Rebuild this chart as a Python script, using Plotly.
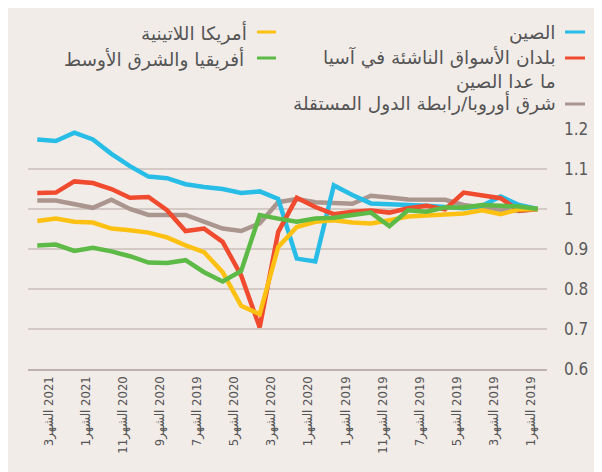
import plotly.graph_objects as go

# time index 0 = first month (rightmost on chart)
months = list(range(28))

china = [1.000, 1.010, 1.031, 1.008, 1.002, 1.006, 1.008, 1.010, 1.013, 1.014, 1.035, 1.059, 0.869, 0.876,
         1.025, 1.044, 1.040, 1.050, 1.055, 1.062, 1.077, 1.081, 1.107, 1.138, 1.174, 1.191, 1.170, 1.174]
asia_ex_china = [1.000, 0.996, 1.027, 1.035, 1.041, 0.999, 1.008, 1.002, 0.991, 0.996, 0.993, 0.987, 1.005, 1.028,
                 0.943, 0.704, 0.834, 0.918, 0.951, 0.945, 0.997, 1.030, 1.028, 1.050, 1.065, 1.069, 1.041, 1.040]
east_europe_cis = [1.000, 0.995, 0.998, 1.004, 1.010, 1.023, 1.023, 1.024, 1.029, 1.033, 1.013, 1.014, 1.017, 1.025,
                   1.017, 0.964, 0.945, 0.951, 0.968, 0.985, 0.985, 0.985, 1.000, 1.023, 1.003, 1.013, 1.021, 1.021]
latin_america = [1.000, 0.999, 0.987, 0.997, 0.989, 0.987, 0.985, 0.981, 0.972, 0.964, 0.966, 0.972, 0.968, 0.955,
                 0.905, 0.737, 0.758, 0.842, 0.892, 0.909, 0.929, 0.941, 0.947, 0.951, 0.966, 0.968, 0.976, 0.970]
africa_me = [1.000, 1.006, 1.008, 1.010, 1.004, 1.004, 0.993, 0.997, 0.957, 0.991, 0.985, 0.978, 0.976, 0.968,
             0.976, 0.985, 0.845, 0.819, 0.842, 0.872, 0.865, 0.866, 0.882, 0.894, 0.903, 0.895, 0.911, 0.909]

tick_positions = [0, 2, 4, 6, 8, 10, 12, 14, 16, 18, 20, 22, 24, 26]
tick_month = ["1", "3", "5", "7", "11", "1", "1", "3", "5", "7", "9", "11", "1", "3"]
tick_year = ["2019", "2019", "2019", "2019", "2019", "2019", "2020", "2020", "2020", "2019", "2020", "2020", "2021", "2021"]
tick_text = [m + "الشهر" + "\u200e " + y for m, y in zip(tick_month, tick_year)]

y_ticks = [0.6, 0.7, 0.8, 0.9, 1.0, 1.1, 1.2]
y_ticktext = ["0.6", "0.7", "0.8", "0.9", "1", "1.1", "1.2"]

series = [
    ("شرق أوروبا/رابطة الدول المستقلة", east_europe_cis, "#AA968F"),
    ("الصين", china, "#28BDE6"),
    ("بلدان الأسواق الناشئة في آسيا<br>ما عدا الصين", asia_ex_china, "#F04A2F"),
    ("أمريكا اللاتينية", latin_america, "#FDC113"),
    ("أفريقيا والشرق الأوسط", africa_me, "#5DBA47"),
]

BG = "#F2ECE9"
fig = go.Figure()
for name, vals, col in series:
    fig.add_trace(go.Scatter(x=months, y=vals, mode="lines", name=name.replace("<br>", " "),
                             line=dict(color=col, width=4.5), showlegend=False))

OFF = 8  # page body margin
W, H = 602 - OFF, 472 - OFF
L, R, T, B = 28 - OFF, 55, 129 - OFF, 103
pw, ph = W - L - R, H - T - B

def px_x(p):
    return (p - OFF - L) / pw

def px_y(p):
    return (H - B - (p - OFF)) / ph

# legend entries: (series index, mark x0, mark x1, mark y, text right x, text centre y)
legend_layout = [
    (1, 565, 585, 32, 557, 33),
    (2, 565, 585, 58, 557, 69),
    (0, 565, 585, 104, 557, 103),
    (3, 257, 276, 32, 248, 33),
    (4, 257, 276, 58, 245, 59),
]
shapes = []
annotations = []
for idx, x0, x1, my, tx, ty in legend_layout:
    name, _, col = series[idx]
    shapes.append(dict(type="line", xref="paper", yref="paper", x0=px_x(x0), x1=px_x(x1),
                       y0=px_y(my), y1=px_y(my), line=dict(color=col, width=3)))
    annotations.append(dict(text=name, xref="paper", yref="paper", x=px_x(tx), y=px_y(ty),
                            xanchor="right", yanchor="middle", align="right", showarrow=False,
                            borderpad=0,
                            font=dict(family="DejaVu Sans", size=18.5, color="#555555")))

fig.update_layout(
    width=W, height=H,
    margin=dict(l=L, r=R, t=T, b=B, pad=0),
    paper_bgcolor=BG, plot_bgcolor=BG,
    shapes=shapes, annotations=annotations,
    xaxis=dict(range=[27.5, -0.5], tickmode="array", tickvals=[p + 0.38 for p in tick_positions],
               ticktext=tick_text,
               tickangle=-90, showgrid=False, zeroline=False, showline=True, linecolor="#BDB4B0", linewidth=2,
               ticks="", tickfont=dict(family="DejaVu Sans Condensed, DejaVu Sans", size=13, color="#555555")),
    yaxis=dict(range=[0.6, 1.2], side="right", tickmode="array", tickvals=y_ticks, ticktext=y_ticktext,
               showgrid=True, gridcolor="#D3C9C5", gridwidth=2, zeroline=False, ticks="",
               ticklabelstandoff=16,
               tickfont=dict(family="DejaVu Sans Condensed, Roboto", size=17, color="#5A5A5A")),
)

fig.write_html("out.html")
